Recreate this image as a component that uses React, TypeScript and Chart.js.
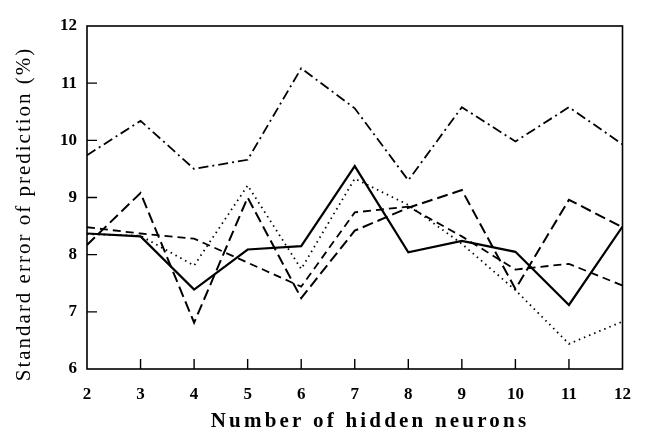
import React, { useEffect, useRef } from "react";
import { Chart, registerables } from "chart.js";

Chart.register(...registerables);

const neurons = [2, 3, 4, 5, 6, 7, 8, 9, 10, 11, 12];
const solidSeries = [8.37, 8.32, 7.39, 8.09, 8.15, 9.55, 8.04, 8.24, 8.05, 7.12, 8.49];
const dottedSeries = [8.36, 8.33, 7.81, 9.21, 7.75, 9.33, 8.87, 8.19, 7.38, 6.44, 6.83];
const mediumDashSeries = [8.48, 8.37, 8.28, 7.86, 7.44, 8.74, 8.84, 8.32, 7.74, 7.84, 7.46];
const longDashSeries = [8.17, 9.08, 6.81, 9.0, 7.24, 8.42, 8.82, 9.13, 7.4, 8.96, 8.48];
const dashDotSeries = [9.74, 10.34, 9.5, 9.66, 11.26, 10.56, 9.3, 10.58, 9.98, 10.58, 9.93];
const yTicks = [6, 7, 8, 9, 10, 11, 12];
const xTitle = "Number of hidden neurons";
const yTitle = "Standard error of prediction (%)";

const toPoints = (vals: number[]) => vals.map((v, i) => ({ x: neurons[i], y: v }));

const framePlugin = {
  id: "frame",
  afterDraw(chart: any) {
    const { ctx, chartArea } = chart;
    const xs = chart.scales.x;
    const ys = chart.scales.y;
    ctx.save();
    ctx.strokeStyle = "#000";
    ctx.lineWidth = 1.6;
    ctx.setLineDash([]);
    ctx.strokeRect(chartArea.left, chartArea.top, chartArea.right - chartArea.left, chartArea.bottom - chartArea.top);
    ctx.lineWidth = 1.4;
    ctx.beginPath();
    for (let v = 3; v <= 11; v++) {
      const px = xs.getPixelForValue(v);
      ctx.moveTo(px, chartArea.bottom);
      ctx.lineTo(px, chartArea.bottom - 10);
    }
    for (let v = 7; v <= 11; v++) {
      const py = ys.getPixelForValue(v);
      ctx.moveTo(chartArea.left, py);
      ctx.lineTo(chartArea.left + 10, py);
    }
    ctx.stroke();
    // axis titles
    ctx.fillStyle = "#000";
    ctx.textAlign = "center";
    ctx.textBaseline = "middle";
    (ctx as any).letterSpacing = "3.2px";
    ctx.font = "bold 21px 'Liberation Serif', serif";
    ctx.fillText(xTitle, 370, 422);
    ctx.translate(24, 214);
    ctx.rotate(-Math.PI / 2);
    (ctx as any).letterSpacing = "2px";
    ctx.font = "21px 'Liberation Serif', serif";
    ctx.fillText(yTitle, 0, 0);
    ctx.restore();
  },
};

export default function App() {
  const ref = useRef<HTMLCanvasElement | null>(null);
  useEffect(() => {
    document.body.style.margin = "0";
    const canvas = ref.current!;
    const base = { fill: false, pointRadius: 0, tension: 0, borderColor: "#000" };
    const chart = new Chart(canvas, {
      type: "line",
      data: {
        datasets: [
          { ...base, label: "solid", data: toPoints(solidSeries), borderWidth: 2.2 },
          { ...base, label: "dotted", data: toPoints(dottedSeries), borderWidth: 1.8, borderDash: [1.5, 4] },
          { ...base, label: "medium dash", data: toPoints(mediumDashSeries), borderWidth: 1.8, borderDash: [8, 5] },
          { ...base, label: "long dash", data: toPoints(longDashSeries), borderWidth: 2, borderDash: [11, 5] },
          { ...base, label: "dash dot", data: toPoints(dashDotSeries), borderWidth: 1.8, borderDash: [10, 4, 2, 4] },
        ],
      },
      options: {
        animation: false,
        responsive: false,
        maintainAspectRatio: false,
        layout: { padding: { top: 26, right: 7, left: 0, bottom: 0 } },
        plugins: { legend: { display: false }, tooltip: { enabled: false }, title: { display: false } },
        scales: {
          x: {
            type: "linear",
            min: 2,
            max: 12,
            afterFit: (s: any) => { s.height = 64; },
            afterBuildTicks: (s: any) => { s.ticks = neurons.map((v) => ({ value: v })); },
            grid: { display: false, drawTicks: false },
            border: { display: false },
            ticks: {
              padding: 15,
              color: "#000",
              maxRotation: 0,
              autoSkip: false,
              font: { family: "'Liberation Serif', serif", size: 17, weight: "bold" },
            },
          },
          y: {
            min: 6,
            max: 12,
            afterFit: (s: any) => { s.width = 87; },
            afterBuildTicks: (s: any) => { s.ticks = yTicks.map((v) => ({ value: v })); },
            grid: { display: false, drawTicks: false },
            border: { display: false },
            ticks: {
              padding: 10,
              color: "#000",
              font: { family: "'Liberation Serif', serif", size: 17, weight: "bold" },
            },
          },
        },
      },
      plugins: [framePlugin],
    } as any);
    return () => chart.destroy();
  }, []);
  return <canvas ref={ref} width={646} height={433} style={{ display: "block", width: 646, height: 433 }} />;
}
